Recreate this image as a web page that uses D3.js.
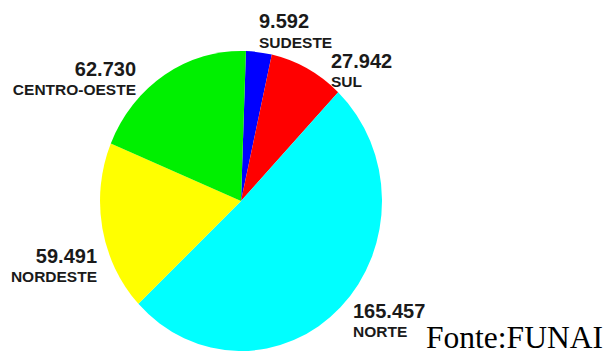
<!DOCTYPE html>
<html>
<head>
<meta charset="utf-8">
<script src="https://cdn.jsdelivr.net/npm/d3@7"></script>
<style>
  html, body { margin: 0; padding: 0; background: #ffffff; }
  svg { display: block; }
</style>
</head>
<body>
<svg id="chart" width="606" height="354"></svg>
<script>
// Indigenous population by region (source: FUNAI)
const regions = ["SUDESTE", "SUL", "NORTE", "NORDESTE", "CENTRO-OESTE"];
const population = [9592, 27942, 165457, 59491, 62730];
const valueLabels = ["9.592", "27.942", "165.457", "59.491", "62.730"];
const sliceColors = ["#0000ff", "#ff0000", "#00ffff", "#ffff00", "#00f000"];
const sourceText = "Fonte:FUNAI";

const svg = d3.select("#chart");

// slightly oval pie: vertical radius ry, squeezed horizontally
const cx = 241, cy = 201, ry = 150, rx = 141;
const offset = 2 * Math.PI / 180;

const pie = d3.pie()
  .sort(null)
  .startAngle(offset)
  .endAngle(2 * Math.PI + offset);

const arc = d3.arc().innerRadius(0).outerRadius(ry);

const data = regions.map((r, i) => ({ region: r, value: population[i], label: valueLabels[i], color: sliceColors[i] }));
const arcs = pie.value(d => d.value)(data);

svg.append("g")
  .attr("transform", `translate(${cx},${cy}) scale(${rx / ry},1)`)
  .selectAll("path")
  .data(arcs)
  .join("path")
  .attr("d", arc)
  .attr("fill", d => d.data.color);

// label anchors (value baseline, name baseline, alignment)
const labelLayout = {
  "SUDESTE":      { x: 259, y1: 28,  y2: 48,  anchor: "start" },
  "SUL":          { x: 331, y1: 68,  y2: 87,  anchor: "start" },
  "NORTE":        { x: 353, y1: 318, y2: 337, anchor: "start" },
  "NORDESTE":     { x: 97,  y1: 263, y2: 282, anchor: "end" },
  "CENTRO-OESTE": { x: 136, y1: 76,  y2: 95,  anchor: "end" }
};

const labels = svg.append("g")
  .attr("font-family", "'Liberation Sans', Arial, sans-serif")
  .attr("font-weight", "bold")
  .attr("fill", "#1a1a1a");

arcs.forEach(a => {
  const p = labelLayout[a.data.region];
  labels.append("text")
    .attr("x", p.x).attr("y", p.y1)
    .attr("text-anchor", p.anchor)
    .attr("font-size", 20)
    .text(a.data.label);
  labels.append("text")
    .attr("x", p.x).attr("y", p.y2)
    .attr("text-anchor", p.anchor)
    .attr("font-size", 15.5)
    .text(a.data.region);
});

svg.append("text")
  .attr("x", 426).attr("y", 348)
  .attr("font-family", "'Liberation Serif', 'Times New Roman', serif")
  .attr("font-size", 31)
  .attr("textLength", 177)
  .attr("lengthAdjust", "spacingAndGlyphs")
  .attr("fill", "#000")
  .text(sourceText);
</script>
</body>
</html>
